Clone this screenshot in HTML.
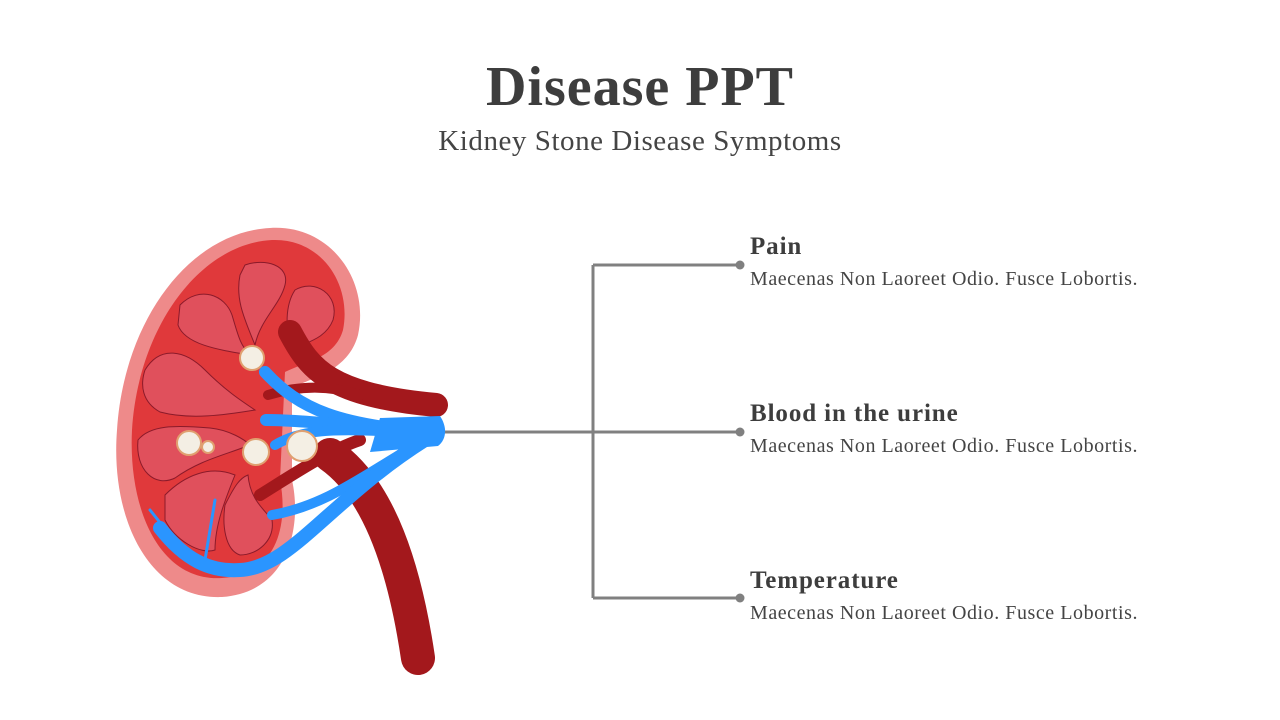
<!DOCTYPE html>
<html><head><style>
body{margin:0;width:1280px;height:720px;background:#fff;overflow:hidden;position:relative;font-family:"Liberation Serif",serif;color:#3d3d3d}
.t{position:absolute;left:0;width:1280px;text-align:center}
.h{position:absolute;left:750px;font-weight:bold;font-size:25px;letter-spacing:0.9px}
.p{position:absolute;left:750px;font-size:20px;letter-spacing:0.55px;color:#444}
</style></head><body>
<div class="t" style="top:55px;font-size:56px;font-weight:bold;letter-spacing:1px">Disease PPT</div>
<div class="t" style="top:125px;font-size:29px;color:#444;letter-spacing:0.55px">Kidney Stone Disease Symptoms</div>
<div class="h" style="top:233px">Pain</div>
<div class="p" style="top:268px">Maecenas Non Laoreet Odio. Fusce Lobortis.</div>
<div class="h" style="top:400px">Blood in the urine</div>
<div class="p" style="top:435px">Maecenas Non Laoreet Odio. Fusce Lobortis.</div>
<div class="h" style="top:567px">Temperature</div>
<div class="p" style="top:602px">Maecenas Non Laoreet Odio. Fusce Lobortis.</div>
<svg width="1280" height="720" style="position:absolute;left:0;top:0">
<g stroke="#808080" stroke-width="3" fill="none">
<path d="M440 432H740M593 265V598M593 265H740M593 598H740"/></g>
<g fill="#808080"><circle cx="740" cy="265" r="4.5"/><circle cx="740" cy="432" r="4.5"/><circle cx="740" cy="598" r="4.5"/></g>
<path d="M270 228C330 224 370 280 358 335C348 372 310 378 292 388L292 480C302 525 290 592 222 597C150 600 110 520 117 430C124 320 190 232 270 228Z" fill="#EE8A8A"/>
<path d="M272 240C322 238 352 285 343 330C335 358 305 362 285 372L280 480C288 520 280 575 222 578C160 582 128 510 132 430C138 330 198 244 272 240Z" fill="#E0393B"/>
<g fill="#E0505C" stroke="#8B1A2A" stroke-width="1">
<path d="M245 265C265 258 290 265 285 285C280 305 260 320 255 345C245 320 235 300 240 275Z"/>
<path d="M295 290C315 278 340 295 333 320C325 340 305 342 292 350C285 330 285 305 295 290Z"/>
<path d="M180 305C200 285 225 295 232 315C238 335 240 345 250 355C220 350 185 345 178 325Z"/>
<path d="M145 370C160 345 185 350 205 370C225 390 240 400 255 410C225 415 190 420 160 412C142 402 140 385 145 370Z"/>
<path d="M138 440C150 425 175 425 210 428C230 430 245 440 250 445C225 455 200 460 175 478C155 488 135 470 138 440Z"/>
<path d="M165 495C185 475 210 465 235 475C225 500 215 525 215 550C200 555 175 540 165 520Z"/>
<path d="M225 505C235 485 240 478 248 475C250 500 265 510 272 520C275 540 258 555 240 555C225 550 222 525 225 505Z"/>
</g>
<g stroke="#A3181C" stroke-linecap="round" fill="none">
<path d="M290 332C310 370 330 395 436 405" stroke-width="24"/>
<path d="M268 395C300 385 330 385 360 395" stroke-width="10"/>
<path d="M330 455C380 490 405 570 418 658" stroke-width="34"/>
<path d="M260 495C300 470 330 450 360 440" stroke-width="12"/>
</g>
<g stroke="#2A95FF" stroke-linecap="round" fill="none">
<path d="M265 372C300 410 340 425 430 432" stroke-width="12"/>
<path d="M266 420C300 420 340 425 420 432" stroke-width="12"/>
<path d="M275 445C300 430 330 428 400 432" stroke-width="10"/>
<path d="M272 515C330 505 370 470 425 440" stroke-width="10"/>
<path d="M160 528C185 560 210 572 240 570C290 568 330 500 425 440" stroke-width="14"/>
<path d="M150 510L190 560M215 500L205 560" stroke-width="3"/>
</g>
<path d="M380 418L440 416C448 428 446 440 438 446L370 452Z" fill="#2A95FF"/>
<g fill="#F4EFE4" stroke="#E0A070" stroke-width="2">
<circle cx="252" cy="358" r="12"/><circle cx="189" cy="443" r="12"/><circle cx="208" cy="447" r="6"/>
<circle cx="256" cy="452" r="13"/><circle cx="302" cy="446" r="15"/></g>
</svg>
</body></html>
